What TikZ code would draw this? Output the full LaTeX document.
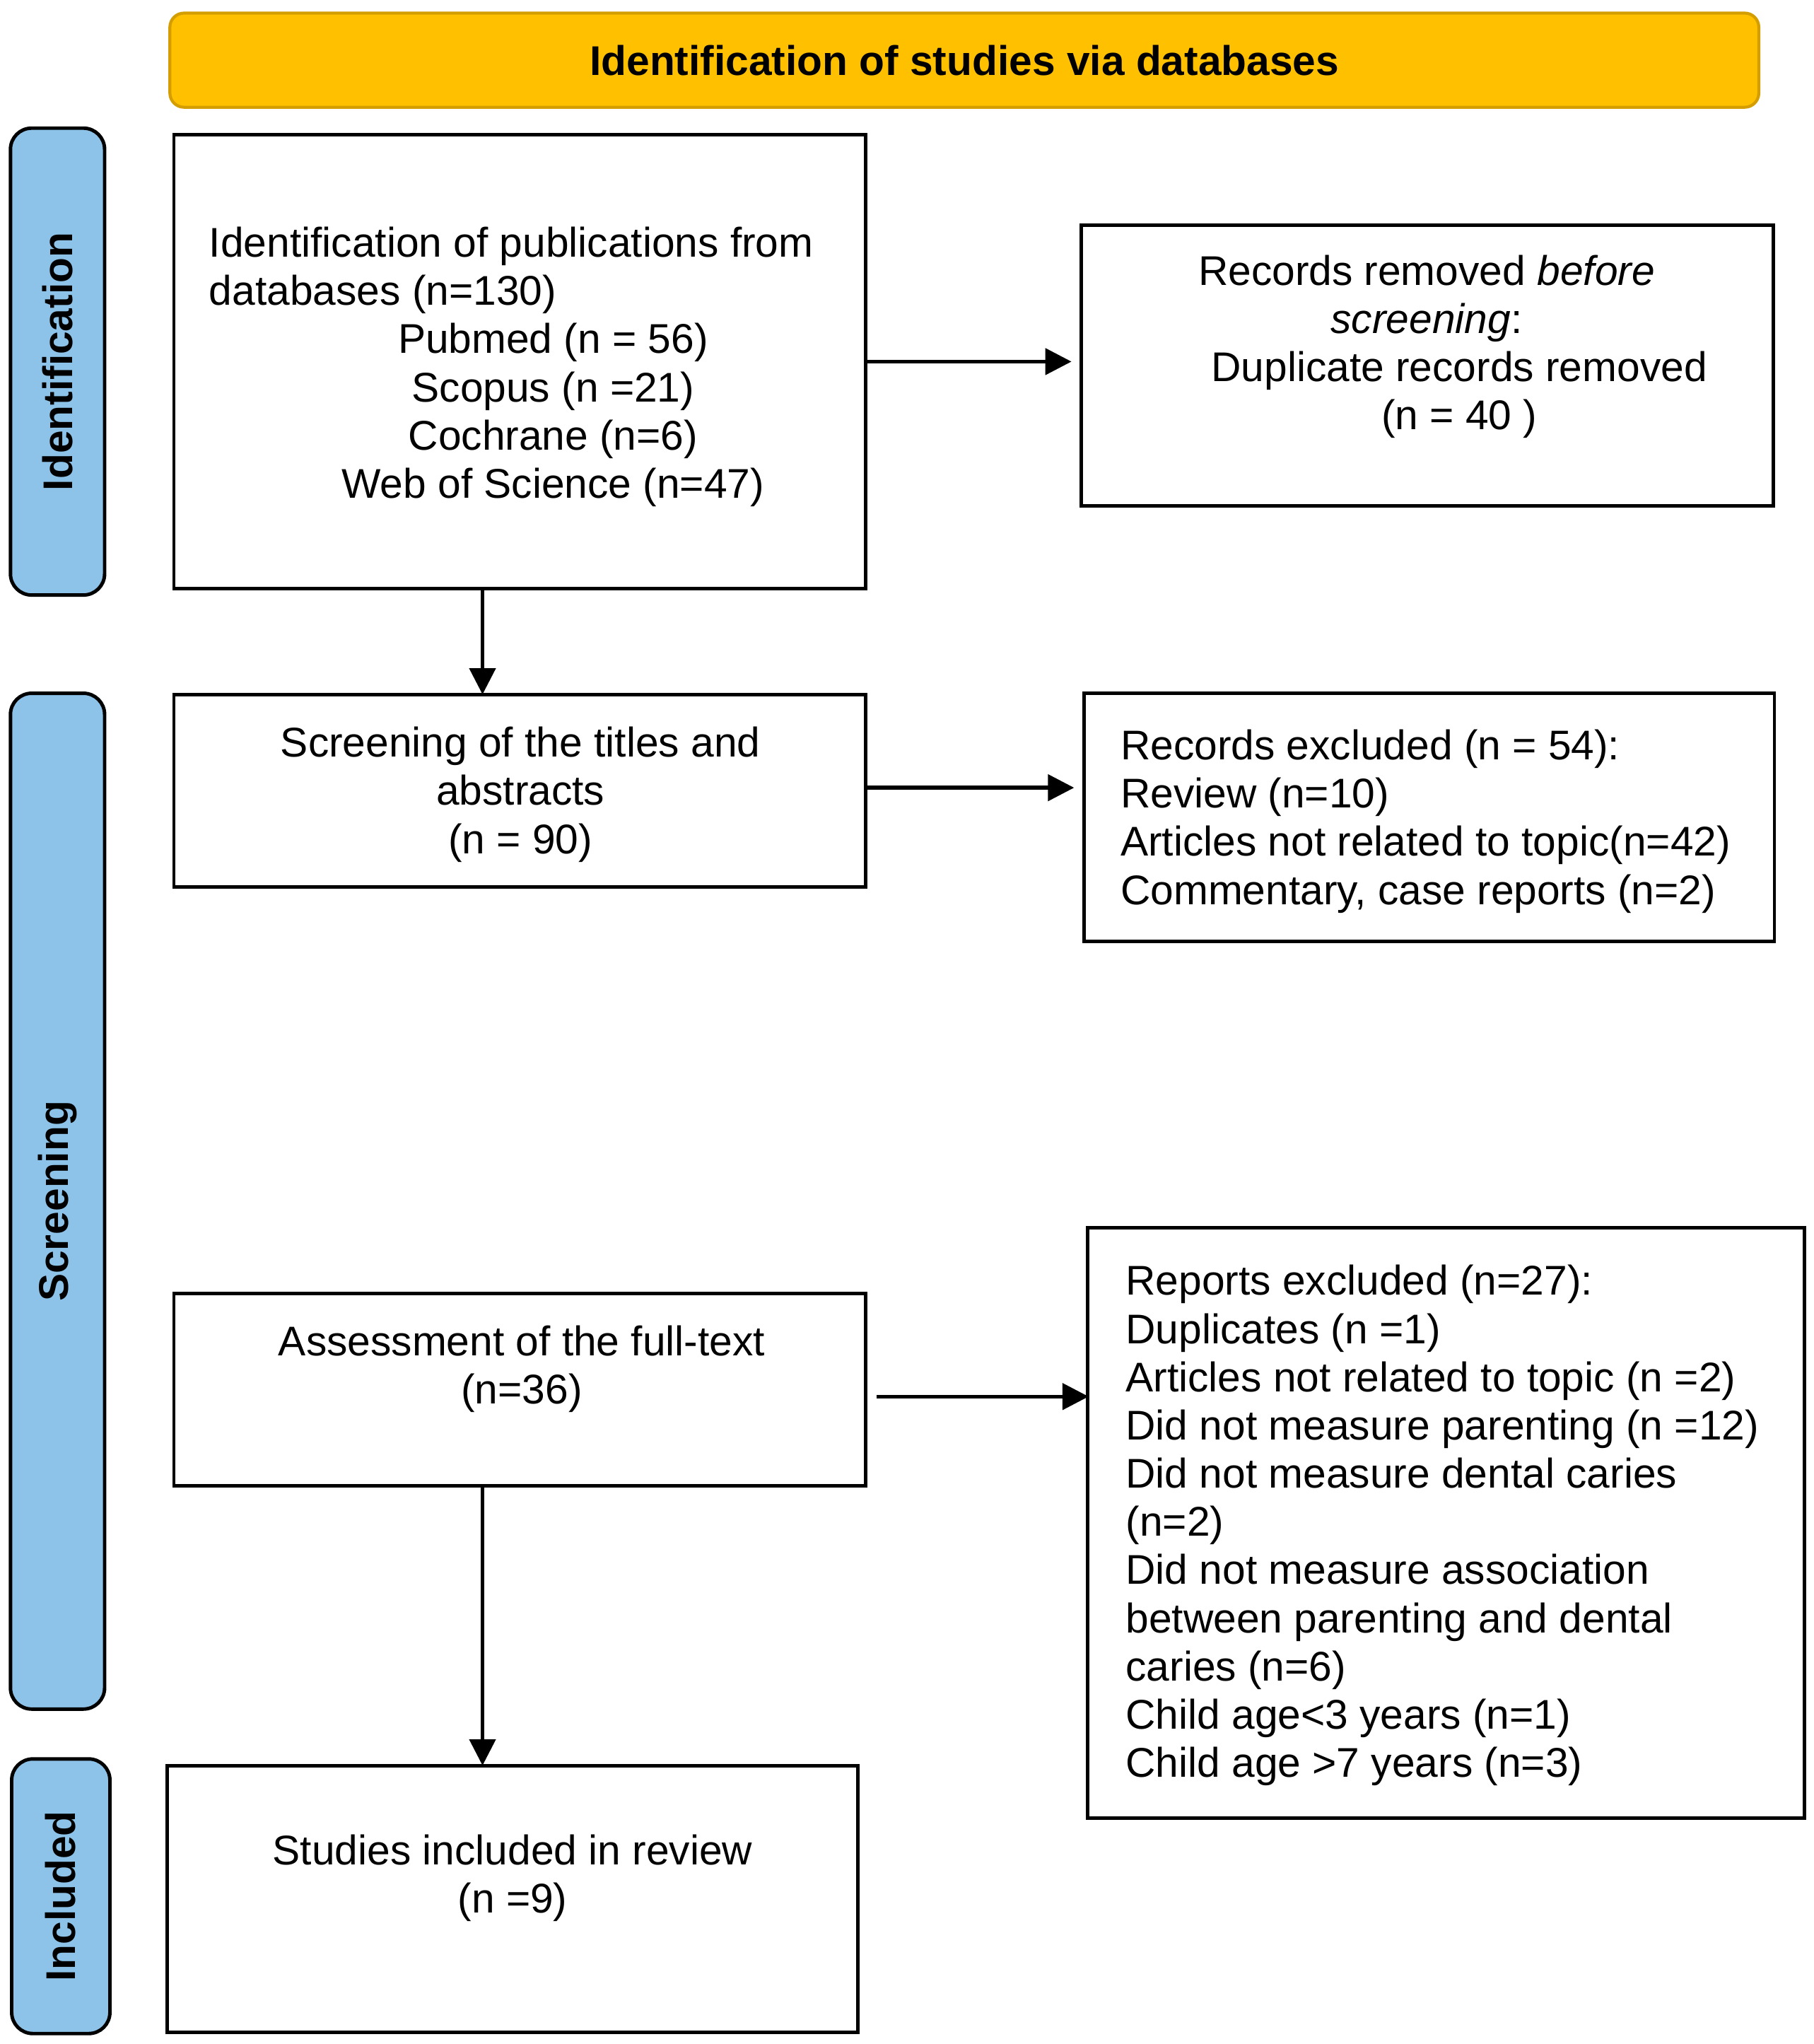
\documentclass[tikz,border=0pt]{standalone}
\usepackage{fontspec}
\setmainfont{Liberation Sans}
\usetikzlibrary{arrows.meta,calc}
\definecolor{headfill}{HTML}{FFC000}
\definecolor{headdraw}{HTML}{D49E00}
\definecolor{sidefill}{HTML}{8DC3E9}
\tikzset{
  x=0.185mm, y=-0.185mm,
  every node/.style={font=\fontsize{16.7}{19.4}\selectfont, inner sep=0pt, outer sep=0pt},
  box/.style={draw=black, line width=1.4pt, rectangle, fill=white},
  sidebar/.style={draw=black, line width=1.4pt, fill=sidefill, rounded corners=3mm, rectangle},
  sidelabel/.style={rotate=90, font=\fontsize{16.7}{19.4}\selectfont\bfseries},
  header/.style={draw=headdraw, line width=1.2pt, fill=headfill, rounded corners=2mm, rectangle},
  harrow/.style={line width=1.5pt, -{Triangle[length=3.7mm,width=3.7mm]}, shorten >=1.4mm},
  varrow/.style={line width=1.2pt, -{Triangle[length=3.7mm,width=3.7mm]}},
}
\begin{document}
\begin{tikzpicture}
\useasboundingbox (0,0) rectangle (1387,1563);

% header
\node[header, minimum width=224.8mm, minimum height=13.32mm] (head) at (737.5,46) {};
\node[font=\fontsize{16.7}{19.4}\selectfont\bfseries] (headtxt) at (head.center) {Identification of studies via databases};

% side bars
\node[sidebar, minimum width=13.32mm, minimum height=66.05mm] (sideI) at (44,276.5) {};
\node[sidelabel] (sideItxt) at (sideI.center) {Identification};
\node[sidebar, minimum width=13.32mm, minimum height=143.7mm] (sideS) at (44,918.5) {};
\node[sidelabel] (sideStxt) at (sideS.center) {Screening};
\node[sidebar, minimum width=13.9mm, minimum height=38.85mm] (sideC) at (46.5,1450) {};
\node[sidelabel] (sideCtxt) at (sideC.center) {Included};

% boxes
\node[box, minimum width=97.87mm, minimum height=64.2mm] (b1) at (397.5,276.5) {};
\node[box, minimum width=97.87mm, minimum height=39.78mm] (b2) at (1091.5,279.5) {};
\node[box, minimum width=97.87mm, minimum height=27.2mm] (b3) at (397.5,604.5) {};
\node[box, minimum width=97.68mm, minimum height=35.15mm] (b4) at (1093,625) {};
\node[box, minimum width=97.87mm, minimum height=27.2mm] (b5) at (397.5,1062.5) {};
\node[box, minimum width=101.38mm, minimum height=83.44mm] (b6) at (1106,1164.5) {};
\node[box, minimum width=97.68mm, minimum height=37.74mm] (b7) at (392,1452) {};

% texts
\node[align=left] (t1) at (423,280.5) {Identification of publications from\\
databases (n=130)\\
\makebox[97.3mm][c]{Pubmed (n = 56)}\\
\makebox[97.3mm][c]{Scopus (n =21)}\\
\makebox[97.3mm][c]{Cochrane (n=6)}\\
\makebox[97.3mm][c]{Web of Science (n=47)}};

\node[align=center] (t2) at (1091,265) {Records removed \textit{before}\\
\textit{screening}:\\
\hspace*{9.25mm}Duplicate records removed\\
\hspace*{9.25mm}(n = 40 )};

\node[align=center] (t3) at (398,607.5) {Screening of the titles and\\abstracts\\(n = 90)};

\node[align=left, anchor=west] (t4) at (857,628) {Records excluded (n = 54):\\
Review (n=10)\\
Articles not related to topic(n=42)\\
Commentary, case reports (n=2)};

\node[align=center] (t5) at (399,1047) {Assessment of the full-text\\(n=36)};

\node[align=left, anchor=west] (t6) at (861,1166.5) {Reports excluded (n=27):\\
Duplicates (n =1)\\
Articles not related to topic (n =2)\\
Did not measure parenting (n =12)\\
Did not measure dental caries\\
(n=2)\\
Did not measure association\\
between parenting and dental\\
caries (n=6)\\
Child age<3 years (n=1)\\
Child age >7 years (n=3)};

\node[align=center] (t7) at (392,1436) {Studies included in review\\(n =9)};

% arrows
\draw[harrow] (b1.east) -- (b1.east -| b2.west);
\draw[varrow] ([xshift=-5.27mm]b1.south) -- ([xshift=-5.27mm]b3.north);
\draw[harrow] ([yshift=0.4mm]b3.east) -- ([yshift=0.4mm]b3.east -| b4.west);
\draw[harrow] ([xshift=1.5mm,yshift=-1mm]b5.east) -- ([xshift=1.5mm,yshift=-1mm]b5.east -| b6.west);
\draw[varrow] ([xshift=-5.27mm]b5.south) -- ([xshift=-5.27mm]b5.south |- b7.north);
\end{tikzpicture}
\end{document}
